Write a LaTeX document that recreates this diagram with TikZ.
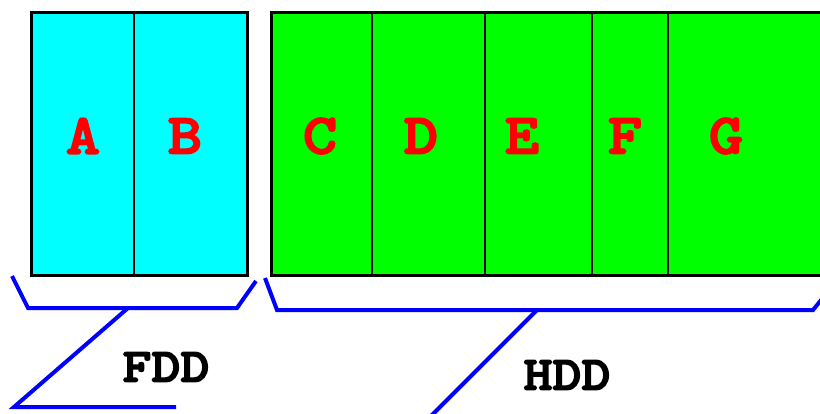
\documentclass[tikz,border=0pt]{standalone}
\usepackage{fontspec}
\newfontfamily\cellfont{lmmonolt10-bold.otf}[FakeStretch=1.15,AutoFakeBold=3]
\definecolor{fddcyan}{RGB}{0,255,255}
\definecolor{hddgreen}{RGB}{0,255,0}
\definecolor{lblred}{RGB}{255,0,0}
\definecolor{brblue}{RGB}{0,0,255}
\tikzset{
  drive/.style={draw=black, line width=3pt},
  divider/.style={draw=black, line width=1.5pt},
  letter/.style={text=lblred, font=\cellfont\bfseries\fontsize{57}{57}\selectfont, inner sep=0pt},
  devlabel/.style={text=black, font=\cellfont\bfseries\fontsize{48}{48}\selectfont, inner sep=0pt},
  brace/.style={draw=brblue, line width=4pt, line join=miter}
}
\begin{document}
\begin{tikzpicture}[x=1pt,y=-1pt]
\useasboundingbox (0,0) rectangle (820,413);
% floppy drive partitions
\path[drive, fill=fddcyan] (31,12.5) rectangle (247,275.5);
\draw[divider] (134,12.5) -- (134,275.5);
% hard disk partitions (run past the right edge)
\path[drive, fill=hddgreen] (271,12.5) rectangle (840,275.5);
\foreach \x in {372,485,592,668} \draw[divider] (\x,12.5) -- (\x,275.5);
% partition letters
\node[letter] (A) at (83,136) {A};
\node[letter] (B) at (185,136) {B};
\node[letter] (C) at (320,136) {C};
\node[letter] (D) at (421,136) {D};
\node[letter] (E) at (522,136) {E};
\node[letter] (F) at (625,136) {F};
\node[letter] (G) at (726,136) {G};
% device labels
\node[devlabel] (fdd) at (166,367) {FDD};
\node[devlabel] (hdd) at (567,375) {HDD};
% braces
\draw[brace] (12,276) -- (28,308) -- (237,308) -- (256,281);
\coordinate (fddtip) at (128,308);
\draw[brace] (fddtip) -- (14,407) -- (176,407);
\draw[brace] (265,278) -- (277,310) -- (813,310) -- (826,294);
\coordinate (hddtip) at (537,310);
\coordinate (hddend) at (430,417);
\draw[brace] (hddtip) -- (hddend);
\end{tikzpicture}
\end{document}
